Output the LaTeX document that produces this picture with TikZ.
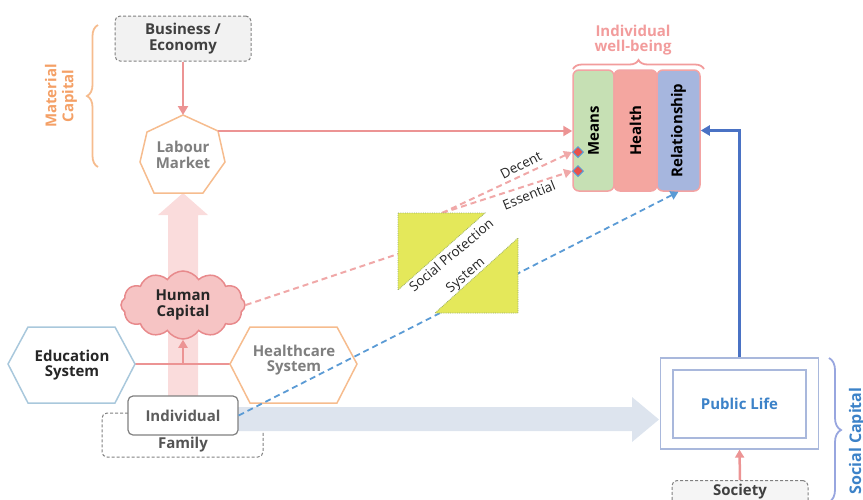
\documentclass[tikz,border=0pt]{standalone}
\usepackage{fontspec}
\setmainfont{Open Sans}
\usetikzlibrary{arrows.meta,shapes.geometric,shapes.symbols,decorations.pathreplacing}
\definecolor{pinkln}{HTML}{EC9494}
\definecolor{pinkdash}{HTML}{F0A8A8}
\definecolor{pinkbig}{HTML}{FADCDC}
\definecolor{bluebig}{HTML}{DDE4EE}
\definecolor{orangeln}{HTML}{F6BC8E}
\definecolor{orangetx}{HTML}{F4A066}
\definecolor{pinktx}{HTML}{F29C9C}
\definecolor{bluetx}{HTML}{3C82C8}
\definecolor{blueln}{HTML}{4A72C4}
\definecolor{bluedash}{HTML}{5B9BD5}
\definecolor{publn}{HTML}{A9B8DC}
\definecolor{eduln}{HTML}{A9C8DC}
\definecolor{grayln}{HTML}{808080}
\definecolor{graytx}{HTML}{7F7F7F}
\definecolor{darktx}{HTML}{404040}
\definecolor{cloudfill}{HTML}{F6C4C4}
\definecolor{cloudln}{HTML}{E88A8C}
\definecolor{meansfill}{HTML}{C6E0B4}
\definecolor{healthfill}{HTML}{F4A6A0}
\definecolor{relfill}{HTML}{A6B6DE}
\definecolor{colln}{HTML}{F3A3A3}
\definecolor{trifill}{HTML}{E4E85A}
\definecolor{triln}{HTML}{9AAE6A}
\definecolor{diamfill}{HTML}{E8504A}
\tikzset{
  txt/.style={font=\bfseries\fontsize{15}{15.5}\selectfont, align=center},
  small/.style={font=\fontsize{13.5}{14}\selectfont, text=black!85},
  dashbox/.style={draw=grayln, densely dashed, line width=1pt, rounded corners=5pt, fill=#1},
  solidarrow/.style={draw=pinkln, line width=2.5pt, -{Triangle[length=9pt,width=10pt]}},
  dasharrow/.style={draw=pinkdash, line width=2pt, dash pattern=on 6pt off 4pt, -{Triangle[length=8pt,width=9pt]}},
  col/.style={draw=colln, line width=1.5pt, rounded corners=6pt, minimum width=41pt, minimum height=121pt, inner sep=0pt, font=\bfseries\fontsize{15}{15}\selectfont},
  diam/.style={diamond, draw=bluedash, fill=diamfill, line width=1pt, minimum size=11pt, inner sep=0pt},
  tri/.style={fill=trifill, draw=triln, densely dotted, line width=0.8pt},
  bracepath/.style={decorate, decoration={brace, amplitude=#1}, line width=1.8pt}
}
\begin{document}
\begin{tikzpicture}[x=1pt,y=-1pt]
\useasboundingbox (0,0) rectangle (863,499);

% ---------- Family box (behind) ----------
\node[dashbox=white, minimum width=161pt, minimum height=44pt] (fam) at (182.5,435) {};
\node[txt, text=darktx!90] (famt) at (183,445) {Family};

% ---------- big arrows ----------
\fill[pinkbig] (168,397) -- (168,215) -- (158,215) -- (183,193) -- (208,215) -- (198,215) -- (198,397) -- cycle;
\fill[bluebig] (238,407) -- (632,407) -- (632,397) -- (659,419.5) -- (632,442) -- (632,431) -- (238,431) -- cycle;

% ---------- Individual ----------
\node[draw=grayln, line width=1.2pt, rounded corners=5pt, fill=white, minimum width=110pt, minimum height=39pt, txt, text=darktx!85] (ind) at (183,415.5) {Individual};

% ---------- Business ----------
\node[dashbox=black!5, minimum width=136pt, minimum height=45pt, txt, text=darktx] (biz) at (183,38.5) {Business /\\Economy};

% ---------- Labour market heptagon ----------
\coordinate (labtop) at (183,115);
\coordinate (labR) at (218,131);
\filldraw[draw=orangeln, fill=white, line width=1.5pt] (labtop) -- (labR) -- (225,162) -- (203,193) -- (154,193) -- (140,162) -- (147,132) -- cycle;
\node[txt, text=graytx] (lab) at (183,155) {Labour\\Market};
\draw[solidarrow] (biz.south) -- (labtop);

% ---------- connector between hexagons ----------
\coordinate (eduR) at (135,364);
\coordinate (heaL) at (230,364);
\coordinate (mid) at (183,364);
\draw[pinkln, line width=2.5pt] (eduR) -- (heaL);

% ---------- Human capital cloud ----------
\node[cloud, cloud puffs=12, cloud puff arc=115, aspect=1.75, minimum width=124pt, minimum height=68pt, inner sep=0pt, draw=cloudln, fill=cloudfill, line width=1.5pt, txt, text=black!85] (hc) at (183,305) {Human\\Capital};
\draw[draw=pinkln, line width=2.5pt, -{Triangle[length=8pt,width=9pt]}] (mid) -- (hc.south);

% ---------- hexagons ----------
\filldraw[draw=eduln, fill=white, line width=1.5pt] (8,364) -- (28,327) -- (115,327) -- (eduR) -- (115,403) -- (28,403) -- cycle;
\node[txt, text=black!85] (edu) at (72,365) {Education\\System};
\filldraw[draw=orangeln, fill=white, line width=1.5pt] (heaL) -- (250,327) -- (337,327) -- (357,364) -- (337,403) -- (250,403) -- cycle;
\node[txt, text=graytx] (hea) at (294,360) {Healthcare\\System};

% ---------- well-being columns ----------
\node[col, fill=meansfill] (means) at (593.5,130.5) {\rotatebox{90}{Means}};
\node[col, fill=healthfill, minimum width=43pt] (health) at (635.5,130.5) {\rotatebox{90}{Health}};
\node[col, fill=relfill, minimum width=43pt] (rel) at (678.5,130.5) {\rotatebox{90}{Relationship}};
\node[txt, text=pinktx] (iwb) at (633,40) {Individual\\well-being};
\draw[bracepath=9pt, draw=pinktx] (573,69) -- (704,69);

\draw[solidarrow] (labR) -- (labR -| means.west);

% ---------- dashed connectors ----------
\coordinate (spL) at (398,254);
\coordinate (sp) at (442,213);
\draw[pinkdash, line width=2pt, dash pattern=on 6pt off 4pt] (hc.east) -- (spL);
\draw[draw=bluedash, line width=1.8pt, dash pattern=on 6pt off 4pt, -{Triangle[length=8pt,width=9pt]}] (ind.east) -- (rel.south);

\node[diam] (d1) at (578,152) {};
\node[diam] (d2) at (578,171) {};
\draw[dasharrow] (sp) -- (d1.west);
\draw[dasharrow] (sp) -- (d2.west);
\node[small, rotate=27] (dec) at (521,165) {Decent};
\node[small, rotate=22] (ess) at (529,195) {Essential};

% ---------- social protection triangles ----------
\filldraw[tri] (398,213) -- (485,213) -- (398,290) -- cycle;
\filldraw[tri] (518,238) -- (518,313) -- (435,313) -- cycle;
\node[small, rotate=40] (spt1) at (451,255) {Social Protection};
\node[small, rotate=40] (spt2) at (466,276) {System};

% ---------- material capital ----------
\draw[bracepath=11pt, draw=orangeln] (98,167) -- (98,25);
\node[txt, text=orangetx, rotate=90, font=\bfseries\fontsize{15}{17}\selectfont] (mat) at (61,96) {Material\\Capital};

% ---------- public life ----------
\node[draw=publn, line width=1.3pt, minimum width=158pt, minimum height=91pt] (pubo) at (739.5,403.5) {};
\node[draw=publn, line width=1.3pt, minimum width=133pt, minimum height=68pt, txt, text=bluetx] (pub) at (739.5,404) {Public Life};
\node[dashbox=black!4, anchor=north, minimum width=136pt, minimum height=45pt] (soc) at (740,480) {};
\node[txt, text=darktx] (soct) at (740,492) {Society};
\draw[draw=pinkln, line width=2.5pt, -{Triangle[length=8pt,width=9pt]}] (soc.north) -- (pubo.south);
\draw[draw=blueln, line width=2.5pt, -{Triangle[length=9pt,width=10pt]}] (pubo.north) |- (rel.east);

\draw[bracepath=12pt, draw=publn!90!blue] (829,358) -- (829,502);
\node[txt, text=bluetx, rotate=90, anchor=east, font=\bfseries\fontsize{16}{16}\selectfont] (socc) at (857,384) {Social Capital};
\end{tikzpicture}
\end{document}
